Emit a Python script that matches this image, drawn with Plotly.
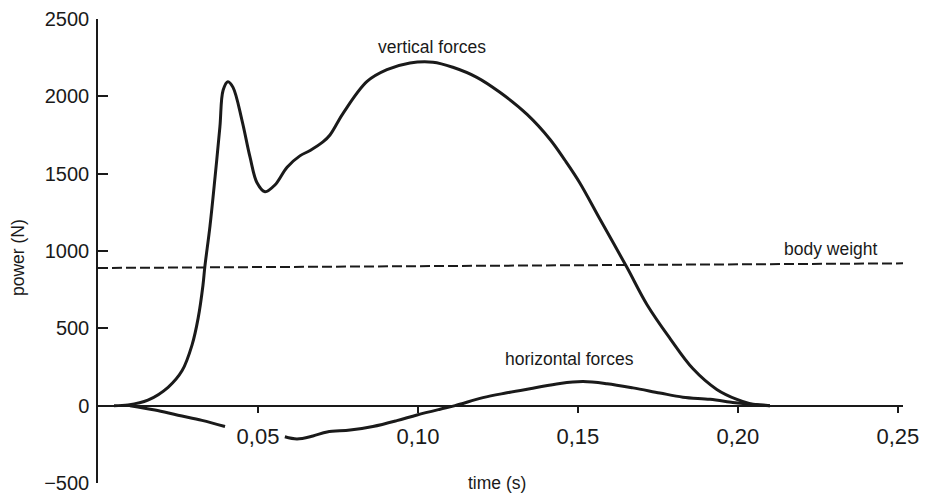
import plotly.graph_objects as go

# ---- data ----
vert_t = [0.005, 0.0094, 0.0156, 0.0219, 0.0263, 0.0294, 0.0313, 0.0328, 0.0334, 0.035, 0.0366,
          0.0381, 0.0391, 0.0406, 0.0422, 0.045, 0.0475, 0.0497, 0.0522, 0.0553, 0.0591,
          0.0631, 0.0663, 0.0703, 0.0725, 0.0766, 0.0841, 0.0903, 0.0975, 0.1047, 0.1109, 0.1184,
          0.1256, 0.1341, 0.1413, 0.146, 0.1506, 0.1569, 0.1653, 0.1716, 0.1788, 0.1859,
          0.1934, 0.1997, 0.2038, 0.21]
vert_v = [0, 5, 36, 119, 227, 393, 566, 777, 899, 1161, 1481,
          1802, 2039, 2095, 2058, 1845, 1608, 1441, 1383, 1427, 1542,
          1615, 1650, 1705, 1750, 1890, 2096, 2172, 2216, 2221, 2188, 2123,
          2026, 1883, 1721, 1585, 1440, 1205, 895, 653, 434, 240,
          105, 40, 13, 0]

horiz1_t = [0.01, 0.0178, 0.025, 0.0325, 0.0397]
horiz1_v = [0, -28, -62, -95, -135]

horiz2_t = [0.0584, 0.0622, 0.0672, 0.0716, 0.0788, 0.0859, 0.0934, 0.0997, 0.1069, 0.1116,
            0.1203, 0.1278, 0.1359, 0.1444, 0.1516, 0.1591, 0.1672, 0.1756, 0.1828, 0.1913,
            0.1984, 0.2016, 0.21]
horiz2_v = [-201, -215, -196, -170, -158, -135, -97, -60, -23, 0,
            52, 83, 113, 144, 156, 142, 115, 82, 55, 41,
            21, 14, 0]

bw_t = [0.0, 0.2516]
bw_v = [890, 920]

x_ticks = [0.05, 0.10, 0.15, 0.20, 0.25]
x_tick_labels = ["0,05", "0,10", "0,15", "0,20", "0,25"]
y_ticks = [-500, 0, 500, 1000, 1500, 2000, 2500]

INK = "#1a1a1a"
FONT = "Liberation Sans, Arial, sans-serif"

fig = go.Figure()
curve = dict(color=INK, width=3, shape="spline", smoothing=1.0)
fig.add_trace(go.Scatter(x=vert_t, y=vert_v, mode="lines", line=curve, hoverinfo="skip"))
fig.add_trace(go.Scatter(x=horiz1_t, y=horiz1_v, mode="lines", line=curve, hoverinfo="skip"))
fig.add_trace(go.Scatter(x=horiz2_t, y=horiz2_v, mode="lines", line=curve, hoverinfo="skip"))
fig.add_trace(go.Scatter(x=bw_t, y=bw_v, mode="lines",
                         line=dict(color=INK, width=2, dash="10px,4px"), hoverinfo="skip"))

ann = dict(showarrow=False, font=dict(family=FONT, size=17.5, color=INK),
           xanchor="center", yanchor="middle")
fig.add_annotation(x=0.1044, y=2320, text="vertical forces", xref="x", yref="y", **ann)
fig.add_annotation(x=0.229, y=1012, text="body weight", xref="x", yref="y", **ann)
fig.add_annotation(x=0.1475, y=300, text="horizontal forces", xref="x", yref="y", **ann)
fig.add_annotation(x=0.1247, y=0.0, text="time (s)", xref="x", yref="paper", **ann)
fig.add_annotation(x=-0.0994, y=0.487, text="power (N)", xref="paper", yref="paper",
                   textangle=-90, **ann)

# the page places the figure 8px from the top-left corner
fig.update_layout(
    width=920, height=487,
    margin=dict(l=90, r=25, t=11, b=12, autoexpand=False),
    paper_bgcolor="white", plot_bgcolor="white",
    showlegend=False,
    font=dict(family=FONT, color=INK),
    xaxis=dict(range=[0, 0.2516], anchor="free", position=500 / 3000,
               tickvals=x_ticks, ticktext=x_tick_labels,
               ticks="outside", ticklen=7, tickwidth=1.5, tickcolor=INK,
               showline=True, linecolor=INK, linewidth=1.5,
               showgrid=False, zeroline=False, automargin=False,
               tickfont=dict(family=FONT, size=22, color=INK),
               ticklabelstandoff=4, ticklabeloverflow="allow"),
    yaxis=dict(range=[-500, 2500], tickvals=y_ticks,
               ticks="inside", ticklen=10, tickwidth=1.5, tickcolor=INK,
               showline=True, linecolor=INK, linewidth=1.5,
               showgrid=False, zeroline=False, automargin=False,
               tickfont=dict(family=FONT, size=20, color=INK),
               ticklabelstandoff=3, ticklabeloverflow="allow"),
)

fig.write_html("out.html")
